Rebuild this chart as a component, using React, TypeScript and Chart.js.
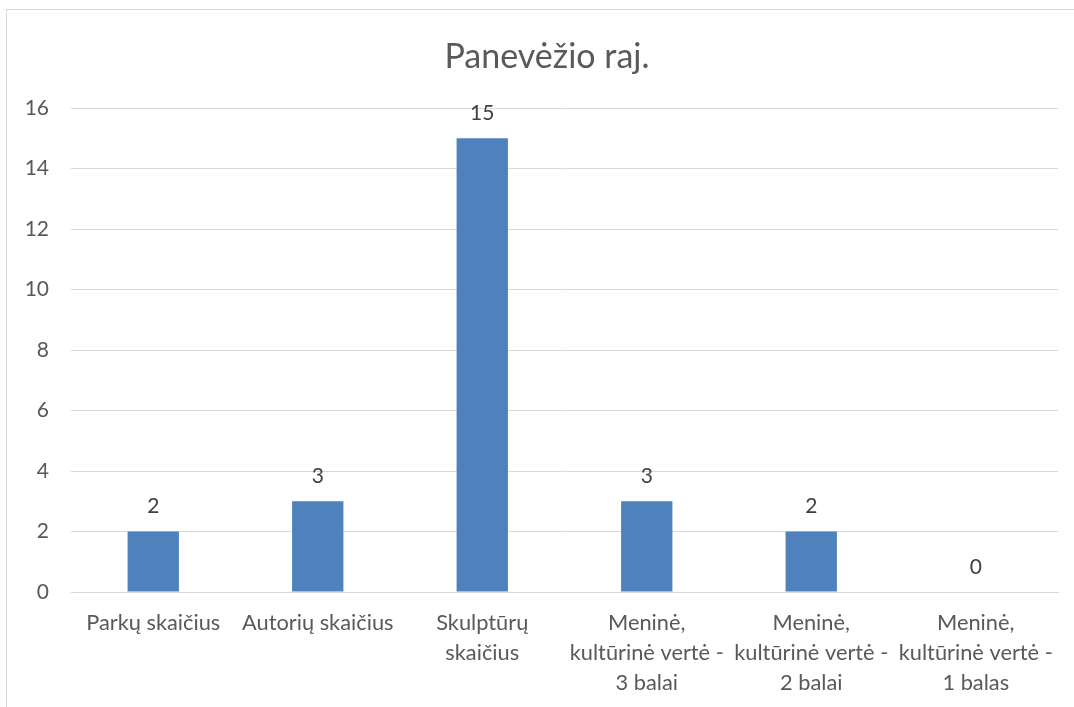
import React, { useEffect, useRef } from "react";
import { Chart, registerables } from "chart.js";

Chart.register(...registerables);

const categories: (string | string[])[] = [
  "Parkų skaičius",
  "Autorių skaičius",
  ["Skulptūrų", "skaičius"],
  ["Meninė,", "kultūrinė vertė -", "3 balai"],
  ["Meninė,", "kultūrinė vertė -", "2 balai"],
  ["Meninė,", "kultūrinė vertė -", "1 balas"],
];
const values: number[] = [2, 3, 15, 3, 2, 0];
const yTicks: number[] = [0, 2, 4, 6, 8, 10, 12, 14, 16];
const titleText = "Panevėžio raj.";

const FONT = "Lato, 'Open Sans', sans-serif";

const dataLabels = {
  id: "dataLabels",
  afterDatasetsDraw(chart: any) {
    const ctx = chart.ctx;
    const meta = chart.getDatasetMeta(0);
    ctx.save();
    ctx.font = `21px ${FONT}`;
    ctx.fillStyle = "#404040";
    ctx.textAlign = "center";
    ctx.textBaseline = "middle";
    meta.data.forEach((bar: any, i: number) => {
      ctx.fillText(String(values[i]), bar.x, bar.y - 25);
    });
    ctx.restore();
  },
};

const chartTitle = {
  id: "chartTitle",
  afterDraw(chart: any) {
    const ctx = chart.ctx;
    ctx.save();
    ctx.font = `34px ${FONT}`;
    ctx.fillStyle = "#595959";
    ctx.textAlign = "center";
    ctx.textBaseline = "middle";
    ctx.fillText(titleText, chart.width / 2, 47);
    ctx.restore();
  },
};

export default function App() {
  const ref = useRef<HTMLCanvasElement | null>(null);
  useEffect(() => {
    document.body.style.margin = "0";
    document.body.style.overflow = "hidden";
    if (!ref.current) return;
    const chart = new Chart(ref.current, {
      type: "bar",
      data: {
        labels: categories,
        datasets: [
          {
            data: values,
            backgroundColor: "#4f81bd",
            borderWidth: 0,
            categoryPercentage: 1,
            barPercentage: 0.312,
          },
        ],
      },
      options: {
        animation: false,
        responsive: false,
        maintainAspectRatio: false,
        layout: { padding: { top: 98, right: 29, bottom: 0, left: 0 } },
        plugins: {
          legend: { display: false },
          tooltip: { enabled: false },
          title: { display: false },
        },
        scales: {
          x: {
            grid: { display: false, drawTicks: false },
            border: { display: true, color: "#d9d9d9", width: 1 },
            ticks: {
              color: "#595959",
              font: { family: FONT, size: 21.8, lineHeight: 1.38 },
              padding: 16,
              maxRotation: 0,
              autoSkip: false,
            },
            afterFit: (scale: any) => {
              scale.height = 136;
            },
          },
          y: {
            min: 0,
            max: 16,
            afterBuildTicks: (scale: any) => {
              scale.ticks = yTicks.map((v) => ({ value: v }));
            },
            grid: { color: "#d9d9d9", lineWidth: 1, drawTicks: false },
            border: { display: false },
            ticks: {
              color: "#595959",
              font: { family: FONT, size: 21 },
              padding: 22,
            },
            afterFit: (scale: any) => {
              scale.width = 64;
            },
          },
        },
      },
      plugins: [dataLabels, chartTitle],
    });
    return () => chart.destroy();
  }, []);
  return (
    <div style={{ position: "fixed", left: 0, top: 0, width: 1074, height: 707, overflow: "hidden", background: "#fff" }}>
      <div
        style={{
          position: "absolute",
          left: 6,
          top: 9,
          width: 1082,
          height: 720,
          border: "1px solid #d9d9d9",
          boxSizing: "border-box",
          background: "#fff",
        }}
      >
        <canvas ref={ref} width={1080} height={718} style={{ display: "block" }} />
      </div>
    </div>
  );
}
